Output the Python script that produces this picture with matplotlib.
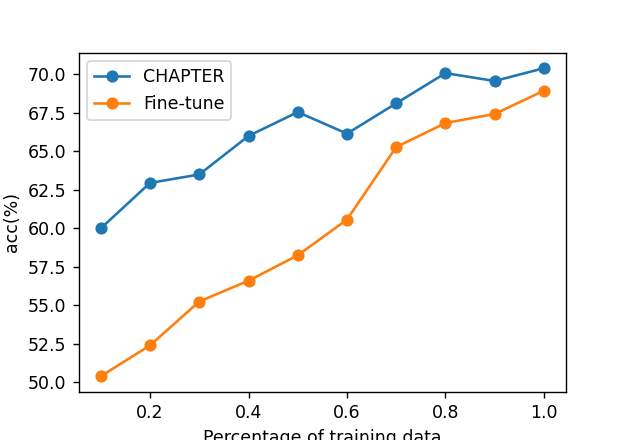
import matplotlib
matplotlib.use("Agg")
from matplotlib import pyplot as plt

# data
ratios = [0.1, 0.2, 0.3, 0.4, 0.5, 0.6, 0.7, 0.8, 0.9, 1.0]
chapter_acc = [60.0, 62.95, 63.5, 66.0, 67.55, 66.15, 68.12, 70.08, 69.57, 70.4]
finetune_acc = [50.4, 52.4, 55.25, 56.6, 58.25, 60.57, 65.28, 66.84, 67.43, 68.94]

fig, ax = plt.subplots(figsize=(629 / 125, 440 / 125), dpi=125)

ax.plot(ratios, chapter_acc, marker='o', label='CHAPTER')
ax.plot(ratios, finetune_acc, marker='o', label='Fine-tune')

ax.set_xlabel('Percentage of training data')
ax.set_ylabel('acc(%)')
ax.legend(loc='upper left')

fig.savefig('out.png', dpi=125)
